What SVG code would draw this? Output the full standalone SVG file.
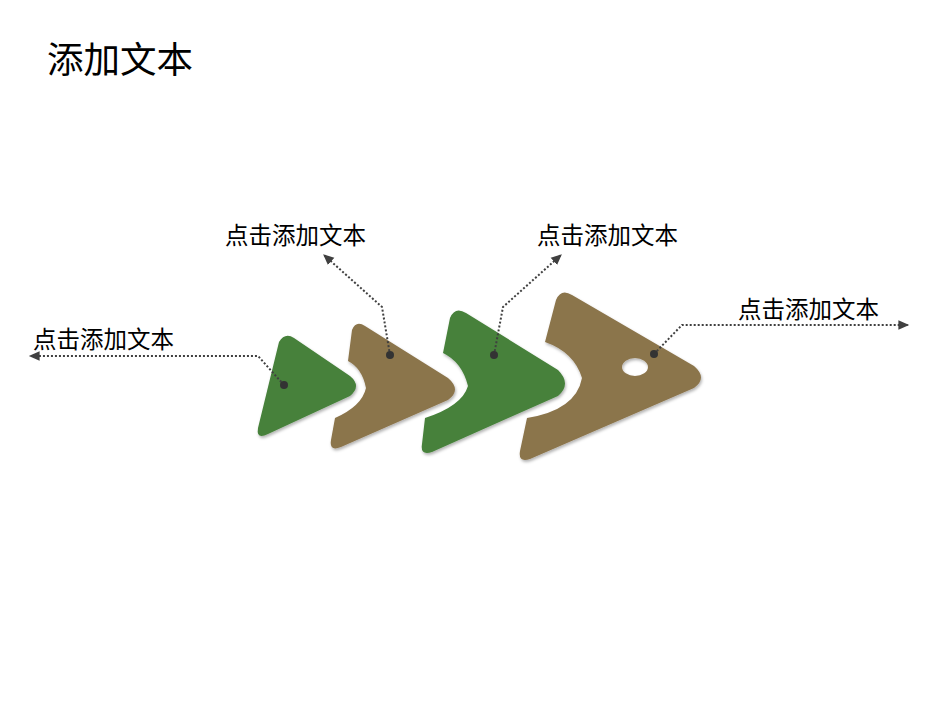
<svg xmlns="http://www.w3.org/2000/svg" width="950" height="713" viewBox="0 0 950 713">
<defs>
<filter id="sh" x="-10%" y="-10%" width="120%" height="130%"><feDropShadow dx="1" dy="2" stdDeviation="1.5" flood-color="#000" flood-opacity="0.3"/></filter>
<marker id="ar" viewBox="0 0 10 10" refX="8" refY="5" markerWidth="6" markerHeight="6" orient="auto-start-reverse"><path d="M0,1 L9,5 L0,9 z" fill="#404040"/></marker>
</defs>
<style>
.t{font-family:"Noto Sans CJK SC","Liberation Sans",sans-serif;fill:#000}
.g{fill:#46813a}.b{fill:#8b744b}
.c{fill:none;stroke:#404040;stroke-width:2;stroke-dasharray:2 2}
.d{fill:#333}
</style>
<rect width="950" height="713" fill="#fff"/>
<text class="t" x="47" y="73" font-size="36.5">添加文本</text>
<g id="shape1" filter="url(#sh)"><path class="g" d="M279,342 Q285,332 294,338 L350,376 Q362,386 350,396 L268,434 Q256,440 258,428 Z"/></g>
<g id="shape2" filter="url(#sh)"><path class="b" d="M352,330 Q356,320 365,326 L448,378 Q462,390 448,400 L341,447 Q329,452 331,440 L335,418 Q362,406 366,388 Q362,368 348,361 Z"/></g>
<g id="shape3" filter="url(#sh)"><path class="g" d="M450,318 Q455,306 466,313 L558,370 Q572,384 558,396 L432,452 Q420,456 422,444 L425,418 Q462,406 468,386 Q462,362 443,353 Z"/></g>
<g id="shape4" filter="url(#sh)"><path class="b" fill-rule="evenodd" d="M556,300 Q561,288 572,295 L694,366 Q708,378 694,388 L530,459 Q518,463 520,451 L527,418 Q576,410 582,378 Q574,352 545,342 Z M622,367 a13,9 0 1,0 26,0 a13,9 0 1,0 -26,0 Z"/></g>
<g id="connectors">
<path class="c" d="M284,385 L258,356 L30,356" marker-end="url(#ar)"/>
<path class="c" d="M390,355 L382,307 L324,255" marker-end="url(#ar)"/>
<path class="c" d="M494,355 L503,307 L561,255" marker-end="url(#ar)"/>
<path class="c" d="M654,354 L682,325 L908,325" marker-end="url(#ar)"/>
<circle class="d" cx="284" cy="385" r="4"/><circle class="d" cx="390" cy="355" r="4"/>
<circle class="d" cx="494" cy="355" r="4"/><circle class="d" cx="654" cy="354" r="4"/>
</g>
<g id="labels">
<text class="t" x="33" y="348" font-size="23.5">点击添加文本</text>
<text class="t" x="225" y="244" font-size="23.5">点击添加文本</text>
<text class="t" x="537" y="244" font-size="23.5">点击添加文本</text>
<text class="t" x="738" y="318" font-size="23.5">点击添加文本</text>
</g>
</svg>
